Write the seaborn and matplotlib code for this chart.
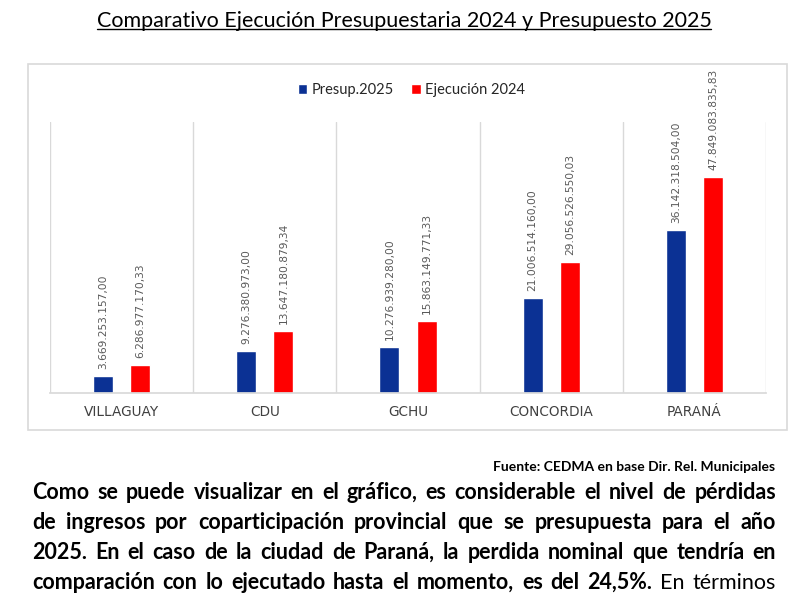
import matplotlib
matplotlib.use("Agg")
import matplotlib.pyplot as plt
import seaborn as sns
import pandas as pd
from matplotlib.patches import Rectangle, Patch
from matplotlib.lines import Line2D

# datos
ciudades = ["VILLAGUAY", "CDU", "GCHU", "CONCORDIA", "PARANÁ"]
presup_2025 = [3669253157.00, 9276380973.00, 10276939280.00, 21006514160.00, 36142318504.00]
ejec_2024 = [6286977170.33, 13647180879.34, 15863149771.33, 29056526550.03, 47849083835.83]
series = ["Presup.2025", "Ejecución 2024"]
colores = ["#0B3194", "#FF0000"]

titulo = "Comparativo Ejecución Presupuestaria 2024 y Presupuesto 2025"
fuente = "Fuente: CEDMA en base Dir. Rel. Municipales"
parrafo = [
    [("Como se puede visualizar en el gráfico, es considerable el nivel de pérdidas", "bold")],
    [("de ingresos por coparticipación provincial que se presupuesta para el año", "bold")],
    [("2025. En el caso de la ciudad de Paraná, la perdida nominal que tendría en", "bold")],
    [("comparación con lo ejecutado hasta el momento, es del 24,5%.", "bold"), ("En términos", "normal")],
]

df = pd.DataFrame({
    "ciudad": ciudades * 2,
    "serie": [series[0]] * len(ciudades) + [series[1]] * len(ciudades),
    "monto": presup_2025 + ejec_2024,
})


def formato(v):
    return f"{v:,.2f}".replace(",", "X").replace(".", ",").replace("X", ".")


sns.set_theme(style="white")
plt.rcParams["font.family"] = ["DejaVu Sans"]

fig = plt.figure(figsize=(8, 6.09), dpi=100)
ax = fig.add_axes([0.0625, 0.3547, 0.895, 0.445])

sns.barplot(data=df, x="ciudad", y="monto", hue="serie", palette=colores,
            saturation=1, width=0.52, gap=0.46, legend=False, ax=ax)

for cont, vals in zip(ax.containers, [presup_2025, ejec_2024]):
    ax.bar_label(cont, labels=[formato(v) for v in vals], rotation=90,
                 padding=5, fontsize=7.7, color="#595959")

ax.set_ylim(0, 60e9)
ax.set_xlim(-0.5, len(ciudades) - 0.5)
for i in range(len(ciudades) + 1):
    ax.axvline(i - 0.5, color="#d9d9d9", lw=1, zorder=0)
sns.despine(ax=ax, left=True)
ax.spines["bottom"].set_color("#d9d9d9")
ax.set_yticks([])
ax.set_xlabel("")
ax.set_ylabel("")
ax.tick_params(axis="x", length=0, pad=9, labelsize=9.8, labelcolor="#404040")

handles = [Patch(facecolor=c, label=s) for c, s in zip(colores, series)]
ax.legend(handles=handles, loc="center", bbox_to_anchor=(0.505, 1.118), ncol=2,
          frameon=False, prop={"family": "Lato", "size": 10.5}, handlelength=0.65,
          handleheight=0.65, handletextpad=0.3, columnspacing=1.2)

# recuadro del grafico
fig.add_artist(Rectangle((28 / 800, 1 - 430 / 609), 759 / 800, 366 / 609,
                         transform=fig.transFigure, fill=False,
                         edgecolor="#d9d9d9", lw=1.2))

t = fig.text(0.505, 1 - 21 / 609, titulo, ha="center", va="center",
             fontsize=15.5, family="Lato", color="black")
fig.text(775 / 800, 1 - 471 / 609, fuente, ha="right", va="baseline",
         fontsize=10, family="Lato", weight="bold", color="black")

fig.canvas.draw()
r = fig.canvas.get_renderer()

# subrayado del titulo
bb = t.get_window_extent(r)
fig.add_artist(Line2D([bb.x0 / 800, bb.x1 / 800], [(bb.y0 + 2) / 609] * 2,
                      transform=fig.transFigure, color="black", lw=1))

# parrafo justificado
izq, der = 32, 776
bases = [499, 529, 559, 589]
for linea, yb in zip(parrafo, bases):
    palabras = []
    for trozo, peso in linea:
        for p in trozo.split(" "):
            tx = fig.text(0, 1 - yb / 609, p, ha="left", va="baseline",
                          fontsize=15.5, family="Lato", weight=peso, color="black")
            palabras.append(tx)
    anchos = [w.get_window_extent(r).width for w in palabras]
    hueco = (der - izq - sum(anchos)) / (len(palabras) - 1)
    x = izq
    for w, a in zip(palabras, anchos):
        w.set_x(x / 800)
        x += a + hueco

fig.savefig("out.png", dpi=100)
